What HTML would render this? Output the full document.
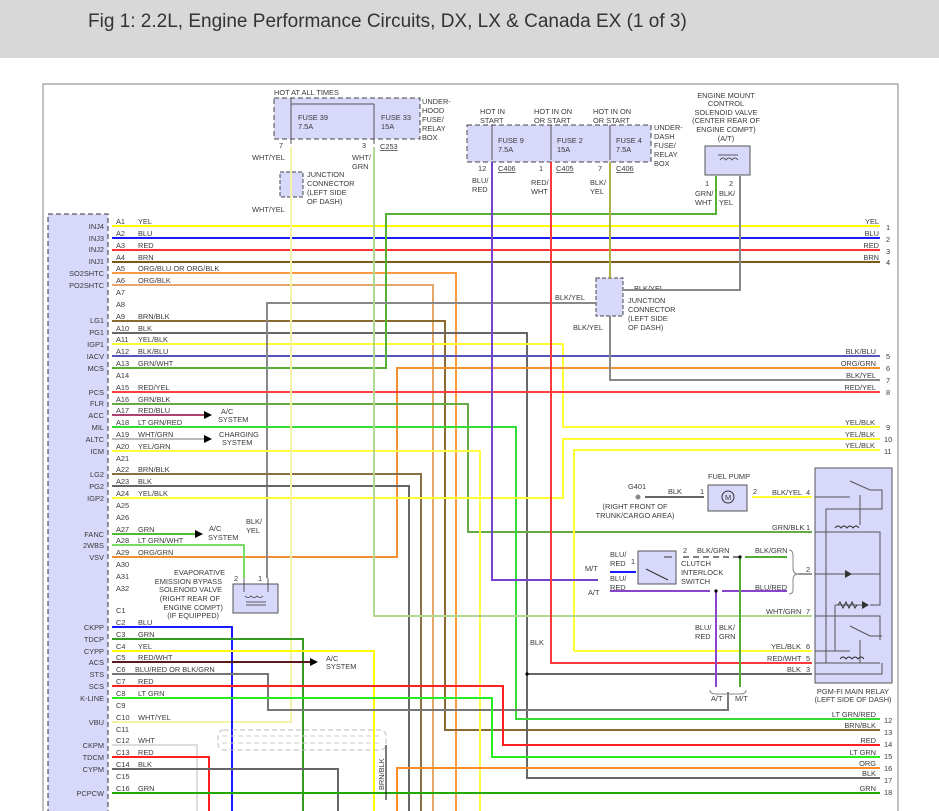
<!DOCTYPE html>
<html><head><meta charset="utf-8"><style>
html,body{margin:0;padding:0;background:#fff;width:939px;height:811px;overflow:hidden}
.hd{position:absolute;left:0;top:0;width:939px;height:58px;background:#d8d8d8}
.hd span{position:absolute;left:88px;top:11px;font:19px "Liberation Sans",sans-serif;color:#333}
svg{position:absolute;left:0;top:0}
text{font-family:"Liberation Sans",sans-serif;font-size:7.4px;fill:#3a3a3a}
.w{fill:none;stroke-width:2}
</style></head><body>
<div class="hd"><span>Fig 1: 2.2L, Engine Performance Circuits, DX, LX &amp; Canada EX (1 of 3)</span></div>
<svg width="939" height="811" viewBox="0 0 939 811">
<!-- frame -->
<path d="M43,811 V84 H898 V811" fill="none" stroke="#999" stroke-width="1.2"/>
<!-- ECM box -->
<rect x="48" y="214" width="60" height="600" fill="#d8d8fa" stroke="#333" stroke-dasharray="5,3"/>

<!-- top fuse boxes -->
<rect x="274" y="98" width="146" height="41" fill="#d8d8fa" stroke="#444" stroke-dasharray="5,3"/>
<path d="M291,98 V144 M374,104 V144 M291,104 H374" stroke="#555" fill="none"/>
<text x="274" y="95">HOT AT ALL TIMES</text>
<text x="298" y="120">FUSE 39</text><text x="298" y="129">7.5A</text>
<text x="381" y="120">FUSE 33</text><text x="381" y="129">15A</text>
<text x="422" y="104">UNDER-</text><text x="422" y="113">HOOD</text><text x="422" y="122">FUSE/</text><text x="422" y="131">RELAY</text><text x="422" y="140">BOX</text>
<text x="279" y="148">7</text><text x="362" y="148">3</text><text x="380" y="149" text-decoration="underline">C253</text>
<text x="252" y="160">WHT/YEL</text><text x="352" y="160">WHT/</text><text x="352" y="169">GRN</text>
<rect x="280" y="172" width="23" height="25" fill="#d8d8fa" stroke="#444" stroke-dasharray="4,2"/>
<text x="307" y="177">JUNCTION</text><text x="307" y="186">CONNECTOR</text><text x="307" y="195">(LEFT SIDE</text><text x="307" y="204">OF DASH)</text>
<text x="252" y="212">WHT/YEL</text>

<rect x="467" y="125" width="184" height="37" fill="#d8d8fa" stroke="#444" stroke-dasharray="5,3"/>
<path d="M492,125 V160 M551,125 V160 M610,125 V160" stroke="#555"/>
<text x="480" y="114">HOT IN</text><text x="480" y="123">START</text>
<text x="534" y="114">HOT IN ON</text><text x="534" y="123">OR START</text>
<text x="593" y="114">HOT IN ON</text><text x="593" y="123">OR START</text>
<text x="498" y="143">FUSE 9</text><text x="498" y="152">7.5A</text>
<text x="557" y="143">FUSE 2</text><text x="557" y="152">15A</text>
<text x="616" y="143">FUSE 4</text><text x="616" y="152">7.5A</text>
<text x="654" y="130">UNDER-</text><text x="654" y="139">DASH</text><text x="654" y="148">FUSE/</text><text x="654" y="157">RELAY</text><text x="654" y="166">BOX</text>
<text x="478" y="171">12</text><text x="498" y="171" text-decoration="underline">C406</text>
<text x="539" y="171">1</text><text x="556" y="171" text-decoration="underline">C405</text>
<text x="598" y="171">7</text><text x="616" y="171" text-decoration="underline">C406</text>
<text x="472" y="183">BLU/</text><text x="472" y="192">RED</text>
<text x="531" y="185">RED/</text><text x="531" y="194">WHT</text>
<text x="590" y="185">BLK/</text><text x="590" y="194">YEL</text>

<text x="726" y="98" text-anchor="middle">ENGINE MOUNT</text><text x="726" y="106" text-anchor="middle">CONTROL</text>
<text x="726" y="115" text-anchor="middle">SOLENOID VALVE</text><text x="726" y="123" text-anchor="middle">(CENTER REAR OF</text>
<text x="726" y="132" text-anchor="middle">ENGINE COMPT)</text><text x="726" y="141" text-anchor="middle">(A/T)</text>
<rect x="705" y="146" width="45" height="29" fill="#d8d8fa" stroke="#555"/>
<path d="M718,155 H738 M720,160 q3,-4 6,0 q3,-4 6,0 q3,-4 6,0" stroke="#333" fill="none" stroke-width=".8"/>
<text x="705" y="186">1</text><text x="729" y="186">2</text>
<text x="695" y="196">GRN/</text><text x="695" y="205">WHT</text><text x="719" y="196">BLK/</text><text x="719" y="205">YEL</text>

<!-- junction connector right -->
<rect x="596" y="278" width="27" height="38" fill="#d8d8fa" stroke="#444" stroke-dasharray="4,2"/>
<text x="634" y="291">BLK/YEL</text>
<text x="555" y="300">BLK/YEL</text>
<text x="628" y="303">JUNCTION</text><text x="628" y="312">CONNECTOR</text><text x="628" y="321">(LEFT SIDE</text><text x="628" y="330">OF DASH)</text>
<text x="573" y="330">BLK/YEL</text>

<!-- wires -->
<g class="w">
<path d="M112,226 H880" stroke="#ffff00"/>
<path d="M112,238 H880" stroke="#1a1aff"/>
<path d="M112,250 H880" stroke="#ff3333"/>
<path d="M112,262 H880" stroke="#7a5a18"/>
<path d="M112,273 H456 V811" stroke="#ff9a40"/>
<path d="M112,285 H433 V811" stroke="#e3a86a"/>
<path d="M112,321 H445 V730 H880" stroke="#8a6a30"/>
<path d="M112,333 H527 V778 H880 M527,674 H812" stroke="#666"/>
<path d="M112,344 H563 V427 H880" stroke="#ffff33"/>
<path d="M112,356 H880" stroke="#5555bb"/>
<path d="M112,368 H386 V214 H716 V176" stroke="#55b033"/>
<path d="M112,557 H397 V368 H880" stroke="#f09030"/>
<path d="M610,162 V278 M596,303 H267 V578 M623,290 H740 V176 M610,316 V380 H880" stroke="#888"/>
<path d="M610,162 V278" stroke="#b0b040"/>
<path d="M112,392 H880" stroke="#ff4040"/>
<path d="M112,404 H468 V532 H812" stroke="#66aa44"/>
<path d="M112,415 H205" stroke="#b04070"/>
<path d="M112,427 H516 V719 H880" stroke="#33dd33"/>
<path d="M112,439 H205" stroke="#bbb"/>
<path d="M112,451 H480 V811" stroke="#ffff44"/>
<path d="M112,474 H421 V811" stroke="#8a7040"/>
<path d="M112,486 H409 V811" stroke="#666"/>
<path d="M112,498 H563 V439 H880" stroke="#ffff33"/>
<path d="M574,651 V450 H880 M574,651 H812" stroke="#ffff33"/>
<path d="M112,534 H195" stroke="#55bb33"/>
<path d="M112,545 H244 V578" stroke="#77dd66"/>
<path d="M291,147 V722 H112" stroke="#f3f3a8"/>
<path d="M374,147 V616 H812" stroke="#b0d890"/>
<path d="M492,162 V580 H598" stroke="#7744cc"/>
<path d="M551,162 V663 H812" stroke="#ff3a3a"/>
<path d="M112,627 H232 V811" stroke="#1a1aff"/>
<path d="M112,639 H303 V811" stroke="#339922"/>
<path d="M112,651 H374 V811" stroke="#ffff00"/>
<path d="M112,662 H310" stroke="#5a1a1a"/>
<path d="M112,674 H268 V710 H728 V692" stroke="#777"/>
<path d="M112,686 H503 V745 H880" stroke="#ff2020"/>
<path d="M112,698 H492 V757 H880" stroke="#22ee22"/>
<path d="M112,745 H197 V811" stroke="#ddd"/>
<path d="M112,757 H209 V811" stroke="#ff2020"/>
<path d="M112,769 H338 V811" stroke="#666"/>
<path d="M397,811 V768 H880" stroke="#ff8c20"/>
<path d="M112,793 H880" stroke="#22aa00"/>
<path d="M752,497 H812" stroke="#ffff33"/>
<path d="M645,497 H704" stroke="#666"/>
<path d="M610,572 H636" stroke="#1a1aff"/>
<path d="M610,591 H710 M722,591 H787" stroke="#8844cc"/>
<path d="M716,591 V687" stroke="#8844cc"/>
<path d="M745,557 H787 M740,557 V687" stroke="#55aa33"/>
</g>
<path d="M683,557 H740" stroke="#555" stroke-width="1.5" stroke-dasharray="6,4"/>
<path d="M386,745 V800" stroke="#222" stroke-width="1.2"/>
<rect x="218" y="730" width="168" height="20" rx="6" fill="none" stroke="#bbb" stroke-dasharray="5,3"/>
<path d="M222,736 H382 M222,743 H382" stroke="#ccc" stroke-dasharray="5,3"/>
<text transform="translate(384,790) rotate(-90)" x="0" y="0">BRN/BLK</text>
<!-- arrows -->
<path d="M204,411 L212,415 L204,419Z M204,435 L212,439 L204,443Z M195,530 L203,534 L195,538Z M310,658 L318,662 L310,666Z" fill="#000"/>
<text x="221" y="414">A/C</text><text x="218" y="422">SYSTEM</text>
<text x="219" y="437">CHARGING</text><text x="222" y="445">SYSTEM</text>
<text x="209" y="531">A/C</text><text x="208" y="540">SYSTEM</text>
<text x="326" y="661">A/C</text><text x="326" y="669">SYSTEM</text>
<text x="246" y="524">BLK/</text><text x="246" y="533">YEL</text>

<!-- evap valve -->
<rect x="233" y="584" width="45" height="29" fill="#d8d8fa" stroke="#555"/>
<path d="M244,578 V592 M268,578 V592 M245,596 q3,3 6,0 q3,3 6,0 q3,3 6,0 M246,602 H266 M246,605 H266" stroke="#333" fill="none" stroke-width=".8"/>
<text x="234" y="581">2</text><text x="258" y="581">1</text>
<text x="225" y="575" text-anchor="end">EVAPORATIVE</text>
<text x="222" y="584" text-anchor="end">EMISSION BYPASS</text>
<text x="222" y="592" text-anchor="end">SOLENOID VALVE</text>
<text x="220" y="601" text-anchor="end">(RIGHT REAR OF</text>
<text x="223" y="610" text-anchor="end">ENGINE COMPT)</text>
<text x="219" y="618" text-anchor="end">(IF EQUIPPED)</text>

<!-- fuel pump -->
<text x="628" y="489">G401</text>
<circle cx="638" cy="497" r="2.5" fill="#888"/>
<text x="668" y="494">BLK</text>
<text x="700" y="494">1</text><text x="753" y="494">2</text>
<rect x="708" y="485" width="39" height="26" fill="#d8d8fa" stroke="#555"/>
<circle cx="728" cy="497" r="6" fill="none" stroke="#333"/><text x="725" y="500">M</text>
<text x="708" y="479">FUEL PUMP</text>
<text x="635" y="509" text-anchor="middle">(RIGHT FRONT OF</text>
<text x="635" y="518" text-anchor="middle">TRUNK/CARGO AREA)</text>
<text x="772" y="495">BLK/YEL</text><text x="806" y="495">4</text>

<!-- clutch switch -->
<rect x="638" y="551" width="38" height="33" fill="#d8d8fa" stroke="#555"/>
<path d="M646,569 L668,580 M664,557 L672,557" stroke="#333"/>
<text x="610" y="557">BLU/</text><text x="610" y="566">RED</text><text x="631" y="564">1</text>
<text x="610" y="581">BLU/</text><text x="610" y="590">RED</text>
<text x="585" y="571">M/T</text><text x="588" y="595">A/T</text>
<text x="683" y="553">2</text><text x="697" y="553">BLK/GRN</text><text x="755" y="553">BLK/GRN</text>
<text x="681" y="566">CLUTCH</text><text x="681" y="575">INTERLOCK</text><text x="681" y="584">SWITCH</text>
<text x="755" y="590">BLU/RED</text>
<path d="M789,550 q4,0 4,6 v12 q0,6 5,6 q-5,0 -5,6 v10 q0,4 -4,4" fill="none" stroke="#888"/>
<path d="M798,574 H812" stroke="#333"/>
<text x="806" y="572">2</text>
<circle cx="716" cy="591" r="1.6" fill="#000"/><circle cx="740" cy="557" r="1.6" fill="#000"/>
<text x="695" y="630">BLU/</text><text x="695" y="639">RED</text><text x="719" y="630">BLK/</text><text x="719" y="639">GRN</text>
<path d="M710,690 q0,4 6,4 h10 q2,0 2,4 q0,-4 2,-4 h10 q6,0 6,-4" fill="none" stroke="#888"/>
<text x="711" y="701">A/T</text><text x="735" y="701">M/T</text>
<text x="530" y="645">BLK</text>
<circle cx="527" cy="674" r="1.6" fill="#000"/>

<!-- relay -->
<rect x="815" y="468" width="77" height="215" fill="#d8d8fa" stroke="#555"/>
<g stroke="#555" fill="none" stroke-width="1">
<path d="M815,497 H850 M850,481 L870,490 H882 V509 H826 V663 H880 M860,495 V525 M848,532 H880 V574 M830,532 H880 M815,532 H848 M815,574 H880 M840,574 H880 M835,605 H862 M870,605 H880 V574 M835,605 V651 H850 M815,616 H880 V640 M850,626 L870,636 H882 M860,640 V663 M815,651 H850 M815,663 H880 M815,674 H882 V663"/>
</g>
<path d="M835,528 q3,-4 6,0 q3,-4 6,0 q3,-4 6,0 q3,-4 6,0 M840,659 q3,-4 6,0 q3,-4 6,0 q3,-4 6,0 q3,-4 6,0 M838,605 l2,-3 3,6 3,-6 3,6 3,-6 3,6 2,-3" stroke="#333" fill="none"/>
<path d="M845,570 L845,578 L852,574Z M862,601 L862,609 L869,605Z" fill="#333"/>
<text x="772" y="530">GRN/BLK</text><text x="806" y="530">1</text>
<text x="766" y="614">WHT/GRN</text><text x="806" y="614">7</text>
<text x="771" y="649">YEL/BLK</text><text x="806" y="649">6</text>
<text x="767" y="661">RED/WHT</text><text x="806" y="661">5</text>
<text x="787" y="672">BLK</text><text x="806" y="672">3</text>
<text x="853" y="694" text-anchor="middle">PGM-FI MAIN RELAY</text>
<text x="853" y="702" text-anchor="middle">(LEFT SIDE OF DASH)</text>

<!-- right labels -->
<g text-anchor="end">
<text x="879" y="224">YEL</text><text x="879" y="236">BLU</text><text x="879" y="248">RED</text><text x="879" y="260">BRN</text>
<text x="876" y="354">BLK/BLU</text><text x="876" y="366">ORG/GRN</text><text x="876" y="378">BLK/YEL</text><text x="876" y="390">RED/YEL</text>
<text x="875" y="425">YEL/BLK</text><text x="875" y="437">YEL/BLK</text><text x="875" y="448">YEL/BLK</text>
<text x="876" y="717">LT GRN/RED</text><text x="876" y="728">BRN/BLK</text><text x="876" y="743">RED</text>
<text x="876" y="755">LT GRN</text><text x="876" y="766">ORG</text><text x="876" y="776">BLK</text><text x="876" y="791">GRN</text>
</g>
<g>
<text x="886" y="230">1</text><text x="886" y="242">2</text><text x="886" y="254">3</text><text x="886" y="265">4</text>
<text x="886" y="359">5</text><text x="886" y="371">6</text><text x="886" y="383">7</text><text x="886" y="395">8</text>
<text x="886" y="430">9</text><text x="884" y="442">10</text><text x="884" y="454">11</text>
<text x="884" y="723">12</text><text x="884" y="735">13</text><text x="884" y="747">14</text><text x="884" y="759">15</text>
<text x="884" y="771">16</text><text x="884" y="783">17</text><text x="884" y="795">18</text>
</g>

<!-- ECM pin names -->
<g text-anchor="end">
<text x="104" y="229">INJ4</text><text x="104" y="241">INJ3</text><text x="104" y="252">INJ2</text><text x="104" y="264">INJ1</text>
<text x="104" y="276">SO2SHTC</text><text x="104" y="288">PO2SHTC</text>
<text x="104" y="323">LG1</text><text x="104" y="335">PG1</text><text x="104" y="347">IGP1</text><text x="104" y="359">IACV</text><text x="104" y="371">MCS</text>
<text x="104" y="395">PCS</text><text x="104" y="406">FLR</text><text x="104" y="418">ACC</text><text x="104" y="430">MIL</text><text x="104" y="442">ALTC</text><text x="104" y="454">ICM</text>
<text x="104" y="477">LG2</text><text x="104" y="489">PG2</text><text x="104" y="501">IGP2</text>
<text x="104" y="537">FANC</text><text x="104" y="548">2WBS</text><text x="104" y="560">VSV</text>
<text x="104" y="630">CKPP</text><text x="104" y="642">TDCP</text><text x="104" y="654">CYPP</text><text x="104" y="665">ACS</text>
<text x="104" y="677">STS</text><text x="104" y="689">SCS</text><text x="104" y="701">K-LINE</text><text x="104" y="725">VBU</text>
<text x="104" y="748">CKPM</text><text x="104" y="760">TDCM</text><text x="104" y="772">CYPM</text><text x="104" y="796">PCPCW</text>
</g>
<!-- pin numbers and wire colors -->
<g>
<text x="116" y="224">A1</text><text x="138" y="224">YEL</text>
<text x="116" y="236">A2</text><text x="138" y="236">BLU</text>
<text x="116" y="248">A3</text><text x="138" y="248">RED</text>
<text x="116" y="260">A4</text><text x="138" y="260">BRN</text>
<text x="116" y="271">A5</text><text x="138" y="271">ORG/BLU OR ORG/BLK</text>
<text x="116" y="283">A6</text><text x="138" y="283">ORG/BLK</text>
<text x="116" y="295">A7</text><text x="116" y="307">A8</text>
<text x="116" y="319">A9</text><text x="138" y="319">BRN/BLK</text>
<text x="116" y="331">A10</text><text x="138" y="331">BLK</text>
<text x="116" y="342">A11</text><text x="138" y="342">YEL/BLK</text>
<text x="116" y="354">A12</text><text x="138" y="354">BLK/BLU</text>
<text x="116" y="366">A13</text><text x="138" y="366">GRN/WHT</text>
<text x="116" y="378">A14</text>
<text x="116" y="390">A15</text><text x="138" y="390">RED/YEL</text>
<text x="116" y="402">A16</text><text x="138" y="402">GRN/BLK</text>
<text x="116" y="413">A17</text><text x="138" y="413">RED/BLU</text>
<text x="116" y="425">A18</text><text x="138" y="425">LT GRN/RED</text>
<text x="116" y="437">A19</text><text x="138" y="437">WHT/GRN</text>
<text x="116" y="449">A20</text><text x="138" y="449">YEL/GRN</text>
<text x="116" y="461">A21</text>
<text x="116" y="472">A22</text><text x="138" y="472">BRN/BLK</text>
<text x="116" y="484">A23</text><text x="138" y="484">BLK</text>
<text x="116" y="496">A24</text><text x="138" y="496">YEL/BLK</text>
<text x="116" y="508">A25</text><text x="116" y="520">A26</text>
<text x="116" y="532">A27</text><text x="138" y="532">GRN</text>
<text x="116" y="543">A28</text><text x="138" y="543">LT GRN/WHT</text>
<text x="116" y="555">A29</text><text x="138" y="555">ORG/GRN</text>
<text x="116" y="567">A30</text><text x="116" y="579">A31</text><text x="116" y="591">A32</text>
<text x="116" y="613">C1</text>
<text x="116" y="625">C2</text><text x="138" y="625">BLU</text>
<text x="116" y="637">C3</text><text x="138" y="637">GRN</text>
<text x="116" y="649">C4</text><text x="138" y="649">YEL</text>
<text x="116" y="660">C5</text><text x="138" y="660">RED/WHT</text>
<text x="116" y="672">C6</text><text x="135" y="672">BLU/RED OR BLK/GRN</text>
<text x="116" y="684">C7</text><text x="138" y="684">RED</text>
<text x="116" y="696">C8</text><text x="138" y="696">LT GRN</text>
<text x="116" y="708">C9</text>
<text x="116" y="720">C10</text><text x="138" y="720">WHT/YEL</text>
<text x="116" y="732">C11</text>
<text x="116" y="743">C12</text><text x="138" y="743">WHT</text>
<text x="116" y="755">C13</text><text x="138" y="755">RED</text>
<text x="116" y="767">C14</text><text x="138" y="767">BLK</text>
<text x="116" y="779">C15</text>
<text x="116" y="791">C16</text><text x="138" y="791">GRN</text>
</g>
</svg>
</body></html>
